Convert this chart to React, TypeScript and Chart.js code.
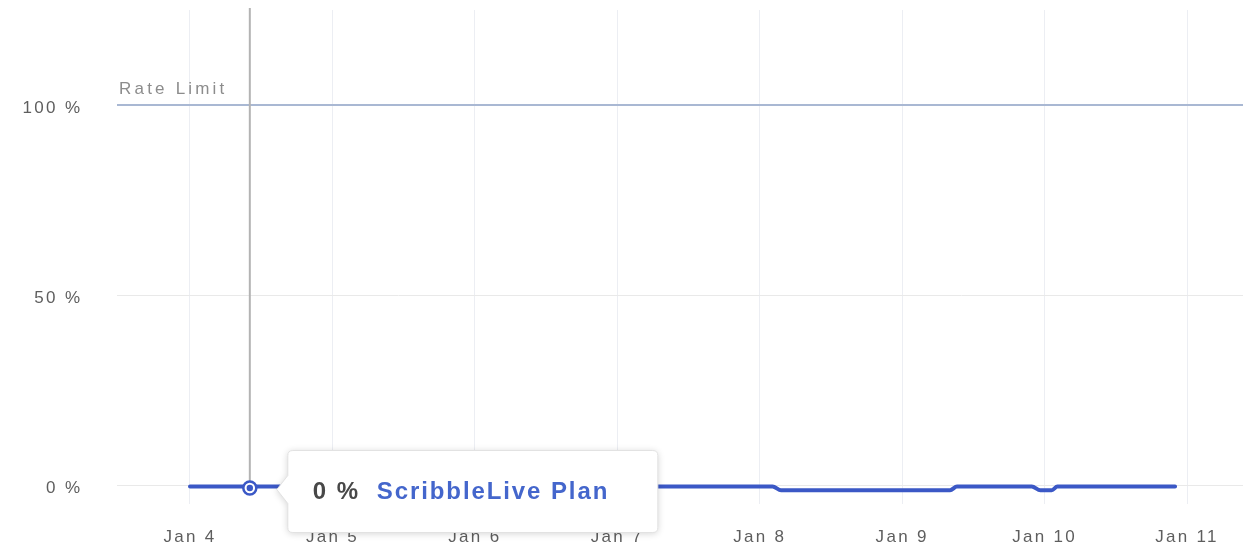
import { useEffect, useRef } from 'react';
import { Chart, registerables } from 'chart.js';

Chart.register(...registerables);

const FONT = '"Liberation Sans", Arial, Helvetica, sans-serif';

// X axis: days of January
const dayTicks = [4, 5, 6, 7, 8, 9, 10, 11];
const dayLabels = ['Jan 4', 'Jan 5', 'Jan 6', 'Jan 7', 'Jan 8', 'Jan 9', 'Jan 10', 'Jan 11'];
const xMin = 3.4875;
const xMax = 11.393;

// Y axis: percent of rate limit
const percentTicks = [0, 50, 100];
const yMin = -5;
const yMax = 125;

// Series
const seriesName = 'ScribbleLive Plan';
const xDays = [4.0, 4.42, 8.09, 8.15, 9.336, 9.385, 9.91, 9.97, 10.05, 10.09, 10.916];
const usage = [-0.4, -0.4, -0.4, -1.4, -1.4, -0.4, -0.4, -1.4, -1.4, -0.4, -0.4];

const rateLimit = 100;
const rateLimitLabel = 'Rate Limit';
const hoverIndex = 1;

const LINE_BLUE = '#3b58c6';

const overlay = {
  id: 'overlay',
  beforeDraw(chart: any) {
    chart.ctx.letterSpacing = '2.3px';
  },
  beforeDatasetsDraw(chart: any) {
    const { ctx, chartArea, scales } = chart;
    const x = scales.x;
    const y = scales.y;
    const px = x.getPixelForValue(xDays[hoverIndex]);
    const py = y.getPixelForValue(usage[hoverIndex]);
    ctx.save();
    ctx.strokeStyle = '#b3b3b3';
    ctx.lineWidth = 2;
    ctx.beginPath();
    ctx.moveTo(px, chartArea.top - 2);
    ctx.lineTo(px, py);
    ctx.stroke();
    ctx.restore();

    ctx.save();
    ctx.font = `17px ${FONT}`;
    ctx.letterSpacing = '3.2px';
    ctx.fillStyle = '#8c8c8c';
    ctx.textBaseline = 'alphabetic';
    ctx.textAlign = 'left';
    ctx.fillText(rateLimitLabel, chartArea.left + 2, y.getPixelForValue(rateLimit) - 11.5);
    ctx.restore();
  },
  afterDatasetsDraw(chart: any) {
    const { ctx, scales } = chart;
    const x = scales.x;
    const y = scales.y;
    const value = usage[hoverIndex];
    const px = x.getPixelForValue(xDays[hoverIndex]);
    const py = y.getPixelForValue(value);

    // hover marker
    ctx.save();
    ctx.beginPath();
    ctx.arc(px, py + 1.5, 6.5, 0, Math.PI * 2);
    ctx.fillStyle = '#ffffff';
    ctx.fill();
    ctx.lineWidth = 2.5;
    ctx.strokeStyle = LINE_BLUE;
    ctx.stroke();
    ctx.beginPath();
    ctx.arc(px, py + 1.5, 3.2, 0, Math.PI * 2);
    ctx.fillStyle = LINE_BLUE;
    ctx.fill();
    ctx.restore();

    // tooltip
    const left = px + 38;
    const top = py - 36;
    const w = 370;
    const h = 82;
    const r = 5;
    const cy = py + 3;
    ctx.save();
    ctx.shadowColor = 'rgba(0,0,0,0.18)';
    ctx.shadowBlur = 7;
    ctx.shadowOffsetY = 1;
    ctx.beginPath();
    ctx.moveTo(left + r, top);
    ctx.lineTo(left + w - r, top);
    ctx.quadraticCurveTo(left + w, top, left + w, top + r);
    ctx.lineTo(left + w, top + h - r);
    ctx.quadraticCurveTo(left + w, top + h, left + w - r, top + h);
    ctx.lineTo(left + r, top + h);
    ctx.quadraticCurveTo(left, top + h, left, top + h - r);
    ctx.lineTo(left, cy + 14);
    ctx.lineTo(left - 11, cy);
    ctx.lineTo(left, cy - 14);
    ctx.lineTo(left, top + r);
    ctx.quadraticCurveTo(left, top, left + r, top);
    ctx.closePath();
    ctx.fillStyle = '#ffffff';
    ctx.fill();
    ctx.shadowColor = 'transparent';
    ctx.lineWidth = 1;
    ctx.strokeStyle = '#e2e2e2';
    ctx.stroke();

    ctx.font = `bold 24px ${FONT}`;
    ctx.letterSpacing = '1.9px';
    ctx.textBaseline = 'middle';
    ctx.textAlign = 'left';
    ctx.fillStyle = '#484848';
    const shown = Math.round(value) || 0;
    ctx.fillText(`${shown} %`, left + 25, py + 6);
    ctx.fillStyle = '#4466cc';
    ctx.fillText(seriesName, left + 89, py + 6);
    ctx.restore();
  },
};

export default function App() {
  const canvasRef = useRef<HTMLCanvasElement | null>(null);

  useEffect(() => {
    if (!canvasRef.current) return;
    const chart = new Chart(canvasRef.current, {
      type: 'line',
      data: {
        datasets: [
          {
            label: seriesName,
            data: xDays.map((d, i) => ({ x: d, y: usage[i] })),
            borderColor: LINE_BLUE,
            backgroundColor: LINE_BLUE,
            borderWidth: 4,
            pointRadius: 0,
            borderCapStyle: 'round',
            borderJoinStyle: 'round',
            cubicInterpolationMode: 'monotone',
            fill: false,
          },
        ],
      },
      options: {
        animation: false,
        responsive: true,
        maintainAspectRatio: false,
        events: [],
        layout: { padding: { top: 10, left: 0, right: 0, bottom: 0 } },
        plugins: {
          legend: { display: false },
          tooltip: { enabled: false },
        },
        scales: {
          x: {
            type: 'linear',
            min: xMin,
            max: xMax,
            afterBuildTicks: (scale: any) => {
              scale.ticks = dayTicks.map((v) => ({ value: v }));
            },
            afterFit: (scale: any) => {
              scale.height = 48;
              scale.paddingLeft = 0;
              scale.paddingRight = 0;
            },
            ticks: {
              autoSkip: false,
              maxRotation: 0,
              padding: 23,
              color: '#5e5e5e',
              font: { family: FONT, size: 17 },
              callback: (v: any) => {
                const i = dayTicks.indexOf(Number(v));
                return i >= 0 ? dayLabels[i] : '';
              },
            },
            grid: { color: '#eceef3', lineWidth: 1, drawTicks: false },
            border: { display: false },
          },
          y: {
            type: 'linear',
            min: yMin,
            max: yMax,
            afterBuildTicks: (scale: any) => {
              scale.ticks = percentTicks.map((v) => ({ value: v }));
            },
            afterFit: (scale: any) => {
              scale.width = 117;
              scale.paddingTop = 0;
              scale.paddingBottom = 0;
            },
            ticks: {
              padding: 34.7,
              labelOffset: 3,
              color: '#5e5e5e',
              font: { family: FONT, size: 17 },
              callback: (v: any) => `${v} %`,
            },
            grid: {
              drawTicks: false,
              color: (c: any) => (c.tick && c.tick.value === rateLimit ? '#a9b8d3' : '#e9e9e9'),
              lineWidth: (c: any) => (c.tick && c.tick.value === rateLimit ? 2 : 1),
            },
            border: { display: false },
          },
        },
      },
      plugins: [overlay],
    } as any);
    return () => chart.destroy();
  }, []);

  return (
    <div style={{ position: 'absolute', left: 0, top: 0, width: 1243, height: 552, background: '#fff' }}>
      <canvas ref={canvasRef} />
    </div>
  );
}
